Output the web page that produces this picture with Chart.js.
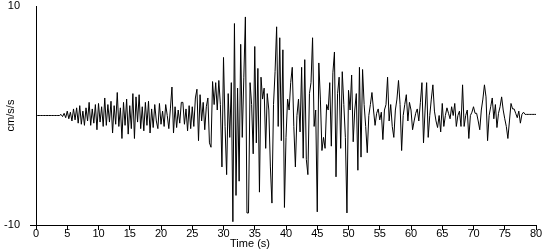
<!DOCTYPE html>
<html>
<head>
<meta charset="utf-8">
<script src="https://cdn.jsdelivr.net/npm/chart.js@4/dist/chart.umd.min.js"></script>
<style>
  html, body { margin: 0; padding: 0; background: #fff; }
  #wrap { width: 550px; height: 250px; position: relative; }
</style>
</head>
<body>
<div id="wrap"><canvas id="quake"></canvas></div>
<script>
// Sample interval of the record (s)
const dt = 0.25;

// Acceleration (cm/s/s), one row per second, 4 samples each
const accel = [
  0, 0, 0, 0,   0, 0, 0, 0,   0, 0, 0, 0,   0, 0, 0, 0,                          // 0-3
  0.1, -0.1, 0.2, -0.2,   0.4, -0.3, 0.3, -0.5,   0.6, -0.4, 0.7, -0.7,          // 4-6
  0.9, -0.8, 0.4, -0.9,   0.7, -0.5, 1.2, -0.9,   0.6, -0.7, 1.0, -1.3,          // 7-9
  1.1, -0.6, 0.8, -1.0,   1.6, -0.9, 1.0, -0.6,   1.3, -1.6, 0.9, -0.8,          // 10-12
  2.1, -1.0, 0.7, -2.1,   1.2, -0.9, 1.5, -1.7,   0.9, -1.2, 2.0, -2.1,          // 13-15
  1.7, -0.6, 1.9, -1.2,   0.8, -1.4, 1.2, -0.9,   1.3, -1.6, 0.6, -1.1,          // 16-18
  1.0, -0.5, -1.2, 1.1,   -0.8, 0.4, -1.0, 1.0,   0.0, -1.2, 0.6, 2.6,           // 19-21
  -1.6, 0.8, -1.1, 0.5,   -0.7, 1.2, 1.2, -0.8,   0.6, -1.4, 0.9, -1.2,          // 22-24
  0.8, -1.0, 1.6, 2.4,    -2.3, 1.9, -0.5, 1.2,   -1.3, 0.8, 1.6, -2.5,          // 25-27
  -2.9, 3.1, 1.0, 3.0,    0.5, 3.2, 1.0, -4.7,    5.3, -1.0, -5.4, 2.0,          // 28-30
  -2.0, 3.0, -9.7, 8.4,   -7.3, 2.5, -6.0, 6.5,   -2.0, 3.5, 9.0, -8.9,          // 31-33
  -8.9, 3.0, 1.0, -3.5,   6.3, -2.5, 4.3, -7.0,   3.5, 1.5, 2.5, -3.0,           // 34-36
  2.0, 0.5, -4.7, -8.0,   1.0, 4.0, 8.1, -1.0,    7.1, -2.3, 6.0, -8.4,          // 37-39
  -2.0, 1.5, 0.5, 3.0,    4.4, -1.0, -4.7, 0.0,   1.5, -1.5, 4.4, -3.9,          // 40-42
  5.1, -4.0, -5.4, 2.0,   3.0, 7.1, -1.0, 0.5,    -8.8, 4.8, 1.5, -3.2,          // 43-45
  -2.0, -3.0, 1.0, 0.5,   3.0, -2.8, 3.9, 5.8,    -5.6, 2.0, 3.5, -3.0,          // 46-48
  4.0, 1.0, -2.0, -8.9,   2.3, 0.5, 3.7, -2.4,    0.5, 2.0, -5.0, 4.4,           // 49-51
  -3.8, 4.2, 1.0, -1.0,   -3.4, 0.0, 1.0, 2.1,    0.5, -0.9, 0.2, 0.6,           // 52-54
  -0.4, 0.3, -2.2, 0.5,   1.0, 3.5, -0.5, 1.0,    -1.0, -2.0, 0.5, 1.5,          // 55-57
  3.2, 1.0, -3.2, 0.0,    1.0, 1.9, -0.5, 1.2,    0.5, -1.3, -0.5, 0.2,          // 58-60
  0.6, -0.5, 1.2, 3.0,    -2.5, 0.5, 3.0, -2.0,   0.0, 1.5, 2.8, 0.4,            // 61-63
  -0.5, -1.1, 0.0, -1.5,  1.1, -1.0, 0.0, 0.7,    0.2, -0.3, 0.8, 0.0,           // 64-66
  1.1, -1.0, 0.0, 0.4,    -1.0, 2.8, -1.0, 0.0,   0.5, -2.1, 0.0, 0.3,           // 67-69
  0.8, 0.2, 0.2, -0.5,    -1.3, 0.5, 1.5, 2.8,    1.7, -2.3, 0.0, 0.8,           // 70-72
  1.6, -0.3, 1.0, -1.1,   0.2, 0.8, 1.7, 0.5,     -0.3, -1.0, -2.1, -0.5,        // 73-75
  1.1, 0.6, 0.6, 0.2,     -0.2, 0.4, -0.7, 0.1,   0.3, 0.1, 0.1, 0.1,            // 76-78
  0.1, 0.1, 0.1, 0.1,     0.1                                                    // 79-80
];

// Axis ticks
const xTicks = [0, 5, 10, 15, 20, 25, 30, 35, 40, 45, 50, 55, 60, 65, 70, 75, 80];
const yTicks = [-10, 10];

const points = accel.map((v, i) => ({ x: i * dt, y: v }));

const font = { family: "'Liberation Sans', Arial, sans-serif", size: 11 };
Chart.defaults.color = '#000';
Chart.defaults.font = font;

// x axis title sits left of the plot centre in the original
const xTitle = {
    id: 'xTitle',
    afterDraw(chart) {
        const c = chart.ctx;
        c.save();
        c.font = "11px 'Liberation Sans', Arial, sans-serif";
        c.fillStyle = '#000';
        c.textAlign = 'center';
        c.textBaseline = 'middle';
        c.fillText('Time (s)', 250, 244);
        c.restore();
    }
};

new Chart(document.getElementById('quake'), {
    type: 'line',
    data: {
        datasets: [{
            data: points,
            borderColor: '#000',
            borderWidth: 1,
            pointRadius: 0,
            tension: 0,
            fill: false
        }]
    },
    options: {
        responsive: true,
        maintainAspectRatio: false,
        animation: false,
        events: [],
        layout: { padding: { top: 0, right: 14, left: 0, bottom: 0 } },
        plugins: { legend: { display: false }, tooltip: { enabled: false } },
        scales: {
            x: {
                type: 'linear',
                min: 0,
                max: 80,
                afterBuildTicks: s => { s.ticks = xTicks.map(v => ({ value: v })); },
                afterFit: s => { s.height = 25; },
                grid: { drawOnChartArea: false, tickLength: 5, tickColor: '#000' },
                border: { color: '#000', width: 1 },
                ticks: { padding: -3, maxRotation: 0, autoSkip: false, font }
            },
            y: {
                min: -10,
                max: 10,
                afterBuildTicks: s => { s.ticks = yTicks.map(v => ({ value: v })); },
                afterFit: s => { s.width = 36; s.paddingTop = 6; s.paddingBottom = 0; },
                grid: {
                    drawOnChartArea: false,
                    tickLength: 6,
                    tickColor: c => (c.tick && c.tick.value === 10 ? 'rgba(0,0,0,0)' : '#000')
                },
                border: { color: '#000', width: 1 },
                ticks: { padding: 10, font },
                title: { display: true, text: 'cm/s/s', font, padding: { top: 4, bottom: 0 } }
            }
        }
    },
    plugins: [xTitle]
});
</script>
</body>
</html>
